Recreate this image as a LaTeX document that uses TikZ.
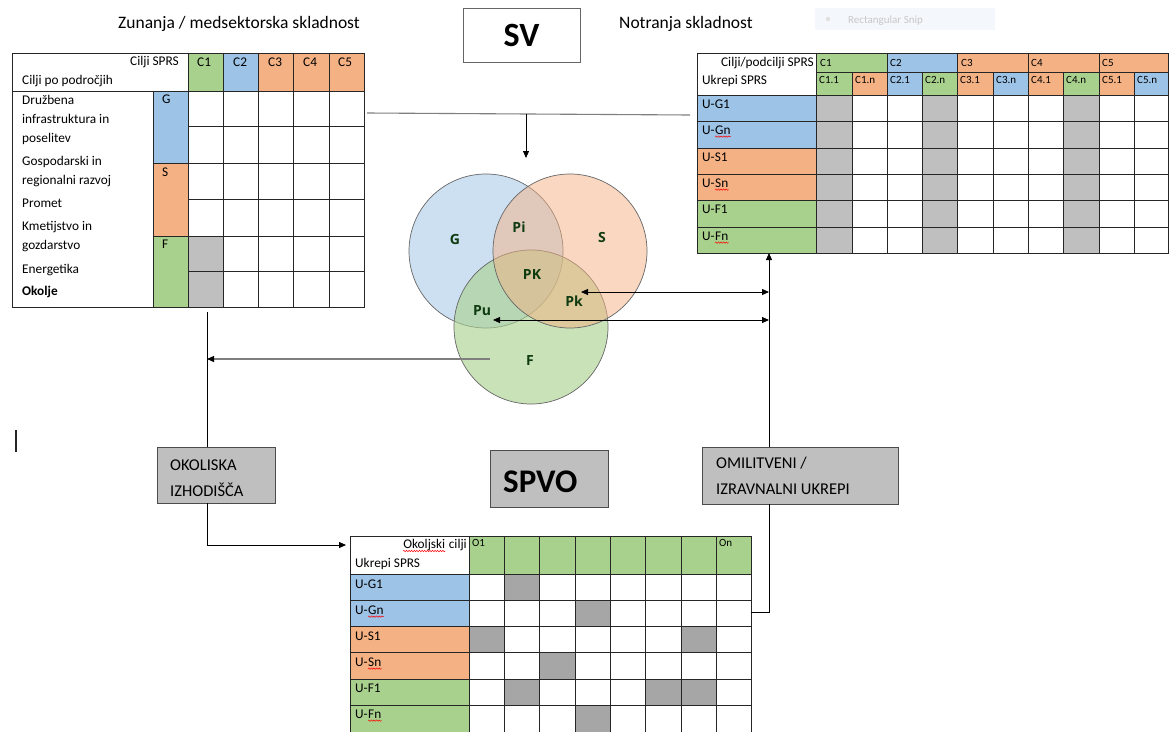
\documentclass[tikz,border=0pt]{standalone}
\usepackage{fontspec}
\setmainfont{Carlito}
\newfontfamily\vennfont{Open Sans}
\usetikzlibrary{arrows.meta,decorations.pathmorphing}
\definecolor{cblue}{HTML}{9DC3E6}
\definecolor{corange}{HTML}{F4B183}
\definecolor{cgreen}{HTML}{A9D18E}
\definecolor{cgrayL}{HTML}{BFBFBF}
\definecolor{cgrayD}{HTML}{A6A6A6}
\definecolor{vtxt}{HTML}{0E3B10}
\definecolor{lgray}{HTML}{7F7F7F}
\definecolor{snipbg}{HTML}{F4F7FB}
\begin{document}
\begin{tikzpicture}[x=1pt,y=-1pt,
  grid/.style={draw=black!85,line width=0.7pt},
  txt/.style={inner sep=0pt,anchor=base west,font=\fontsize{13.3}{16}\selectfont},
  txtr/.style={inner sep=0pt,anchor=base east,font=\fontsize{13.3}{16}\selectfont},
  sm/.style={inner sep=0pt,anchor=base west,font=\fontsize{11}{13}\selectfont},
  head/.style={inner sep=0pt,anchor=base west,font=\fontsize{17.5}{20}\selectfont},
  boxtxt/.style={inner sep=0pt,anchor=base west,font=\fontsize{16.5}{19}\selectfont},
  vlab/.style={font=\vennfont\bfseries\fontsize{14}{16}\selectfont,text=vtxt,inner sep=0pt},
  conn/.style={draw=black,line width=0.8pt},
  gconn/.style={draw=lgray,line width=1.1pt},
  tip/.style={-{Triangle[length=7pt,width=6pt,color=black]}},
  dtip/.style={{Triangle[length=7pt,width=6pt,color=black]}-{Triangle[length=7pt,width=6pt,color=black]}},
  wave/.style={draw=red,line width=0.5pt,decorate,decoration={snake,amplitude=0.7pt,segment length=2.6pt}},
  vcirc/.style={circle,draw=black!60,line width=0.7pt,minimum size=154pt,inner sep=0pt},
  graybox/.style={draw=black!70,fill=cgrayL,line width=0.9pt,inner sep=0pt}
]
\useasboundingbox (0,0) rectangle (1169,731);
\fill[white] (0,0) rectangle (1169,731);

% ---------- headings ----------
\node[head,anchor=base] (hz) at (239,28) {Zunanja / medsektorska skladnost};
\node[head] (hn) at (619,28) {Notranja skladnost};
\node[draw=black!60,line width=1pt,fill=white,minimum width=117pt,minimum height=54pt,inner sep=0pt,
      font=\bfseries\fontsize{34}{36}\selectfont] (sv) at (521.5,35) {SV};
% faint snipping-tool remnant
\node[fill=snipbg,minimum width=180pt,minimum height=22pt,inner sep=0pt] (snip) at (905,19) {};
\fill[black!12] (828,19) circle (2.2pt);
\node[sm,text=black!22] (sniptxt) at (848,23) {Rectangular Snip};

% ---------- left table ----------
\fill[cgreen] (188,53) rectangle (223,91);
\fill[cblue] (223,53) rectangle (258,91);
\fill[corange] (258,53) rectangle (364,91);
\fill[cblue] (153,91) rectangle (188,163);
\fill[corange] (153,163) rectangle (188,236);
\fill[cgreen] (153,236) rectangle (188,307);
\fill[cgrayL] (188,236) rectangle (223,307);
\draw[grid] (12,53) rectangle (364,307);
\draw[grid] (12,91) -- (364,91);
\draw[grid] (153,91) -- (153,307);
\foreach \x in {188,223,258,293,329} \draw[grid] (\x,53) -- (\x,307);
\foreach \y in {126,199,271} \draw[grid] (188,\y) -- (364,\y);
\foreach \y in {163,236} \draw[grid] (153,\y) -- (364,\y);
\node[txtr] (lcs) at (179,65) {Cilji SPRS};
\node[txt] (lcp) at (22,84) {Cilji po področjih};
\node[txt] (lc1) at (197,66) {C1};
\node[txt] (lc2) at (233,66) {C2};
\node[txt] (lc3) at (268,66) {C3};
\node[txt] (lc4) at (303,66) {C4};
\node[txt] (lc5) at (338,66) {C5};
\node[txt] (lg) at (162,103) {G};
\node[txt] (ls) at (162,176) {S};
\node[txt] (lf) at (162,248) {F};
\node[txt] (la1) at (22,104) {Družbena};
\node[txt] (la2) at (22,123) {infrastruktura in};
\node[txt] (la3) at (22,142) {poselitev};
\node[txt] (la4) at (22,165) {Gospodarski in};
\node[txt] (la5) at (22,184) {regionalni razvoj};
\node[txt] (la6) at (22,207) {Promet};
\node[txt] (la7) at (22,230) {Kmetijstvo in};
\node[txt] (la8) at (22,249) {gozdarstvo};
\node[txt] (la9) at (22,273) {Energetika};
\node[txt,font=\bfseries\fontsize{13.3}{16}\selectfont] (la10) at (22,295) {Okolje};

% ---------- right table ----------
\fill[cgreen] (816,53) rectangle (887,72);
\fill[cblue] (887,53) rectangle (957,72);
\fill[corange] (957,53) rectangle (1168,72);
\foreach \xa/\xb/\c in {816/852/cgreen,852/887/corange,887/922/cblue,922/957/cgreen,957/993/corange,993/1028/cblue,1028/1063/corange,1063/1099/cgreen,1099/1134/corange,1134/1168/cblue}
  \fill[\c] (\xa,72) rectangle (\xb,95);
\fill[cblue] (697,95) rectangle (816,148);
\fill[corange] (697,148) rectangle (816,200);
\fill[cgreen] (697,200) rectangle (816,253);
\foreach \xa/\xb in {816/852,922/957,1063/1099}
  \fill[cgrayL] (\xa,95) rectangle (\xb,253);
\draw[grid] (697,53) rectangle (1168,253);
\draw[grid] (816,72) -- (1168,72);
\foreach \y in {95,121,148,174,200,227} \draw[grid] (697,\y) -- (1168,\y);
\foreach \x in {816,887,957,1028,1099} \draw[grid] (\x,53) -- (\x,253);
\foreach \x in {852,922,993,1063,1134} \draw[grid] (\x,72) -- (\x,253);
\node[txtr] (rcs) at (814,66) {Cilji/podcilji SPRS};
\node[txt] (rus) at (702,84) {Ukrepi SPRS};
\node[sm] (rc1) at (820,66) {C1};
\node[sm] (rc2) at (890,66) {C2};
\node[sm] (rc3) at (961,66) {C3};
\node[sm] (rc4) at (1031,66) {C4};
\node[sm] (rc5) at (1102,66) {C5};
\foreach \x/\t [count=\i] in {819/C1.1,855/C1.n,890/C2.1,925/C2.n,960/C3.1,996/C3.n,1031/C4.1,1066/C4.n,1102/C5.1,1137/C5.n}
  \node[sm] (rsub\i) at (\x,83) {\t};
\node[txt] (rg1) at (702,108) {U-G1};
\node[txt] (rg2a) at (702,134) {U-};
\node[txt] (rg2b) at (rg2a.base east) {Gn};
\node[txt] (rs1) at (702,161) {U-S1};
\node[txt] (rs2a) at (702,187) {U-};
\node[txt] (rs2b) at (rs2a.base east) {Sn};
\node[txt] (rf1) at (702,213) {U-F1};
\node[txt] (rf2a) at (702,240) {U-};
\node[txt] (rf2b) at (rf2a.base east) {Fn};
\foreach \n in {rg2b,rs2b,rf2b}
  \draw[wave] ([yshift=-2.6pt]\n.base west) -- ([yshift=-2.6pt]\n.base east);

% ---------- bottom table ----------
\fill[cgreen] (469,536) rectangle (751,574);
\fill[cblue] (350,574) rectangle (469,626);
\fill[corange] (350,626) rectangle (469,679);
\fill[cgreen] (350,679) rectangle (469,732);
\foreach \xa/\xb/\ya/\yb in {504/539/574/600, 575/610/600/626, 469/504/626/652, 681/716/626/652,
   539/575/652/679, 504/539/679/705, 645/681/679/705, 681/716/679/705, 575/610/705/732}
  \fill[cgrayD] (\xa,\ya) rectangle (\xb,\yb);
\draw[grid] (350,733) -- (350,536) -- (751,536) -- (751,733);
\foreach \y in {574,600,626,652,679,705} \draw[grid] (350,\y) -- (751,\y);
\foreach \x in {469,504,539,575,610,645,681,716} \draw[grid] (\x,536) -- (\x,733);
\node[txtr] (okc) at (467,548) {cilji};
\node[txtr] (oks) at ([xshift=-3.2pt]okc.base west) {Okoljski};
\draw[wave] ([yshift=-3pt]oks.base west) -- ([yshift=-3pt]oks.base east);
\node[txt] (bus) at (355,567) {Ukrepi SPRS};
\node[sm] (bo1) at (472,546) {O1};
\node[sm] (bon) at (719,546) {On};
\node[txt] (bg1) at (355,588) {U-G1};
\node[txt] (bg2a) at (355,614) {U-};
\node[txt] (bg2b) at (bg2a.base east) {Gn};
\node[txt] (bs1) at (355,640) {U-S1};
\node[txt] (bs2a) at (355,666) {U-};
\node[txt] (bs2b) at (bs2a.base east) {Sn};
\node[txt] (bf1) at (355,692) {U-F1};
\node[txt] (bf2a) at (355,718) {U-};
\node[txt] (bf2b) at (bf2a.base east) {Fn};
\foreach \n in {bg2b,bs2b,bf2b}
  \draw[wave] ([yshift=-2.6pt]\n.base west) -- ([yshift=-2.6pt]\n.base east);

% ---------- Venn ----------
\node[vcirc,fill=cblue,fill opacity=0.5] (cG) at (486,251) {};
\node[vcirc,fill=cgreen,fill opacity=0.62] (cF) at (531,327) {};
\node[vcirc,fill=corange,fill opacity=0.5] (cS) at (570,251) {};
\node[vlab] (vG) at (455,239) {G};
\node[vlab] (vPi) at (519,227) {Pi};
\node[vlab] (vS) at (602,237) {S};
\node[vlab] (vPK) at (532,274) {PK};
\node[vlab] (vPk) at (574,301) {Pk};
\node[vlab] (vPu) at (482,311) {Pu};
\node[vlab] (vF) at (530,360) {F};

% ---------- boxes ----------
\node[graybox,minimum width=118pt,minimum height=56pt] (okb) at (216,475) {};
\node[boxtxt] (okt1) at (170,470) {OKOLISKA};
\node[boxtxt] (okt2) at (170,496) {IZHODIŠČA};
\node[graybox,minimum width=118pt,minimum height=57pt] (spvo) at (549,478.5) {};
\node[inner sep=0pt,anchor=base west,font=\bfseries\fontsize{33}{34}\selectfont] (spvot) at (503,492) {SPVO};
\node[graybox,minimum width=196pt,minimum height=57pt] (omb) at (800,475.5) {};
\node[boxtxt] (omt1) at (716,468) {OMILITVENI /};
\node[boxtxt] (omt2) at (716,494) {IZRAVNALNI UKREPI};

% ---------- connectors ----------
\coordinate (topL) at (367,113);
\coordinate (topR) at (690,115);
\coordinate (topM) at (526,114);
\coordinate (topArr) at (526,158);
\draw[gconn] (topL) -- (topR);
\draw[conn,tip] (topM) -- (topArr);

\coordinate (lv) at (207,312);
\draw[conn] (lv) -- (lv |- okb.north);
\coordinate (fA) at (490,359);
\draw[gconn,tip] (fA) -- (fA -| lv);
\coordinate (btL) at (346,545);
\draw[conn,tip] (lv |- okb.south) |- (btL);

\coordinate (rv) at (769,0);
\coordinate (btR) at (751,612);
\draw[conn] (btR) -- (btR -| rv) -- (rv |- omb.south);
\coordinate (rtB) at (768,253);
\draw[conn,tip] (rv |- omb.north) -- (rv |- rtB);

\coordinate (pkA) at (581,292);
\coordinate (puA) at (493,320);
\draw[conn,dtip] (pkA) -- (pkA -| rv);
\draw[conn,dtip] (puA) -- (puA -| rv);

% stray cursor mark
\coordinate (m1) at (16,430);
\coordinate (m2) at (16,452);
\draw[black!85,line width=1.3pt] (m1) -- (m2);
\end{tikzpicture}
\end{document}
